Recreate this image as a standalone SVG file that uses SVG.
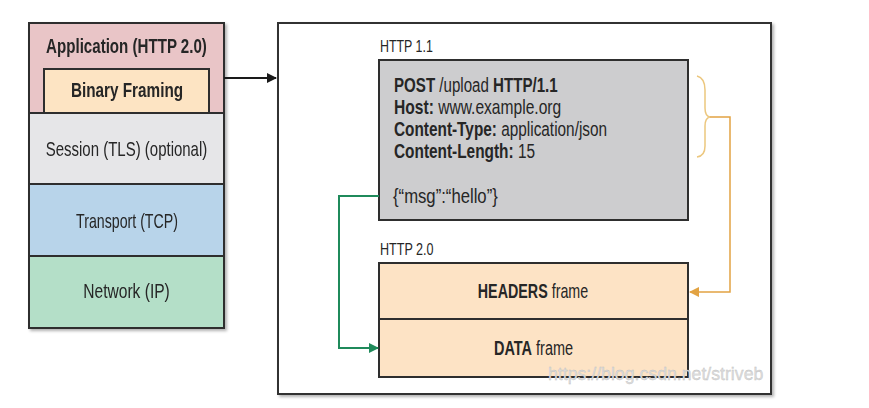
<svg xmlns="http://www.w3.org/2000/svg" width="869" height="408" viewBox="0 0 869 408">
<defs>
<style>
.t{font-family:"Liberation Sans",Arial,sans-serif;font-size:20px;fill:#262626}
.s{font-size:17px}
.c{text-anchor:middle}
.b{font-weight:bold}
.box{stroke:#2e2e2e;stroke-width:2}
</style>
<marker id="ab" viewBox="0 0 10 10" refX="9" refY="5" markerWidth="5" markerHeight="5" orient="auto"><path d="M0,0 L10,5 L0,10 Z" fill="#1a1a1a"/></marker>
<marker id="ag" viewBox="0 0 10 10" refX="9" refY="5" markerWidth="5" markerHeight="5" orient="auto"><path d="M0,0 L10,5 L0,10 Z" fill="#1f8a5b"/></marker>
<marker id="ao" viewBox="0 0 10 10" refX="9" refY="5" markerWidth="7" markerHeight="7" orient="auto"><path d="M0,0 L10,5 L0,10 Z" fill="#e2a343"/></marker>
<filter id="sh" x="-5%" y="-5%" width="115%" height="115%"><feDropShadow dx="2" dy="2" stdDeviation="1.5" flood-color="#000" flood-opacity="0.3"/></filter>
</defs>
<rect width="869" height="408" fill="#ffffff"/>

<g id="stack" filter="url(#sh)">
<g id="application">
<rect class="box" x="29" y="23" width="195" height="90" fill="#e9c5c7"/>
<text class="t b c" transform="translate(126.5,53) scale(0.755,1)">Application (HTTP 2.0)</text>
</g>
<g id="binary-framing">
<rect class="box" x="44" y="69" width="165" height="44" fill="#fde4c3"/>
<text class="t b c" transform="translate(127,97) scale(0.765,1)">Binary Framing</text>
</g>
<g id="session">
<rect class="box" x="29" y="113" width="195" height="71" fill="#e6e6e8"/>
<text class="t c" transform="translate(126.5,156) scale(0.75,1)">Session (TLS) (optional)</text>
</g>
<g id="transport">
<rect class="box" x="29" y="184" width="195" height="72" fill="#b8d4ea"/>
<text class="t c" transform="translate(127,228) scale(0.71,1)">Transport (TCP)</text>
</g>
<g id="network">
<rect class="box" x="29" y="256" width="195" height="72" fill="#b4dfc8"/>
<text class="t c" transform="translate(126.5,298) scale(0.78,1)">Network (IP)</text>
</g>
</g>

<g id="container">
<rect x="278" y="23" width="493" height="371" fill="#ffffff" stroke="#333" stroke-width="2" filter="url(#sh)"/>
</g>

<g id="http11">
<text class="t s" transform="translate(380,52) scale(0.73,1)">HTTP 1.1</text>
<rect class="box" x="379" y="60" width="309" height="160" fill="#cdcdcf"/>
<text class="t" transform="translate(394,92) scale(0.755,1)"><tspan class="b">POST</tspan> /upload <tspan class="b">HTTP/1.1</tspan></text>
<text class="t" transform="translate(394,114) scale(0.78,1)"><tspan class="b">Host:</tspan> www.example.org</text>
<text class="t" transform="translate(394,136) scale(0.768,1)"><tspan class="b">Content-Type:</tspan> application/json</text>
<text class="t" transform="translate(394,158) scale(0.77,1)"><tspan class="b">Content-Length:</tspan> 15</text>
<text class="t" transform="translate(393,203) scale(0.835,1)">{“msg”:“hello”}</text>
</g>

<g id="http20">
<text class="t s" transform="translate(380,255) scale(0.74,1)">HTTP 2.0</text>
</g>
<g id="headers-frame">
<rect class="box" x="379" y="263" width="309" height="56" fill="#fde3c5"/>
<text class="t c" transform="translate(533,298) scale(0.715,1)"><tspan class="b">HEADERS</tspan> frame</text>
</g>
<g id="data-frame">
<rect class="box" x="379" y="319" width="309" height="58" fill="#fde3c5"/>
<text class="t c" transform="translate(533.5,355) scale(0.725,1)"><tspan class="b">DATA</tspan> frame</text>
</g>

<g id="connectors" fill="none">
<path d="M224,78 H276" stroke="#1a1a1a" stroke-width="2" marker-end="url(#ab)"/>
<path d="M379,196 H339 V348 H378" stroke="#1f8a5b" stroke-width="2" marker-end="url(#ag)"/>
<path d="M697,76 Q705,78 705,90 V108 Q705,116 710,117 Q705,118 705,126 V146 Q705,156 697,157" stroke="#ecc77e" stroke-width="1.5"/>
<path d="M710,117 H730 V292 H690" stroke="#e2a343" stroke-width="1.5" marker-end="url(#ao)"/>
</g>

<text x="548" y="380" font-family="'Liberation Sans',Arial,sans-serif" font-size="17.7" fill="#dcdcdc" stroke="#bdbdbd" stroke-width="0.3">https://blog.csdn.net/striveb</text>
</svg>
